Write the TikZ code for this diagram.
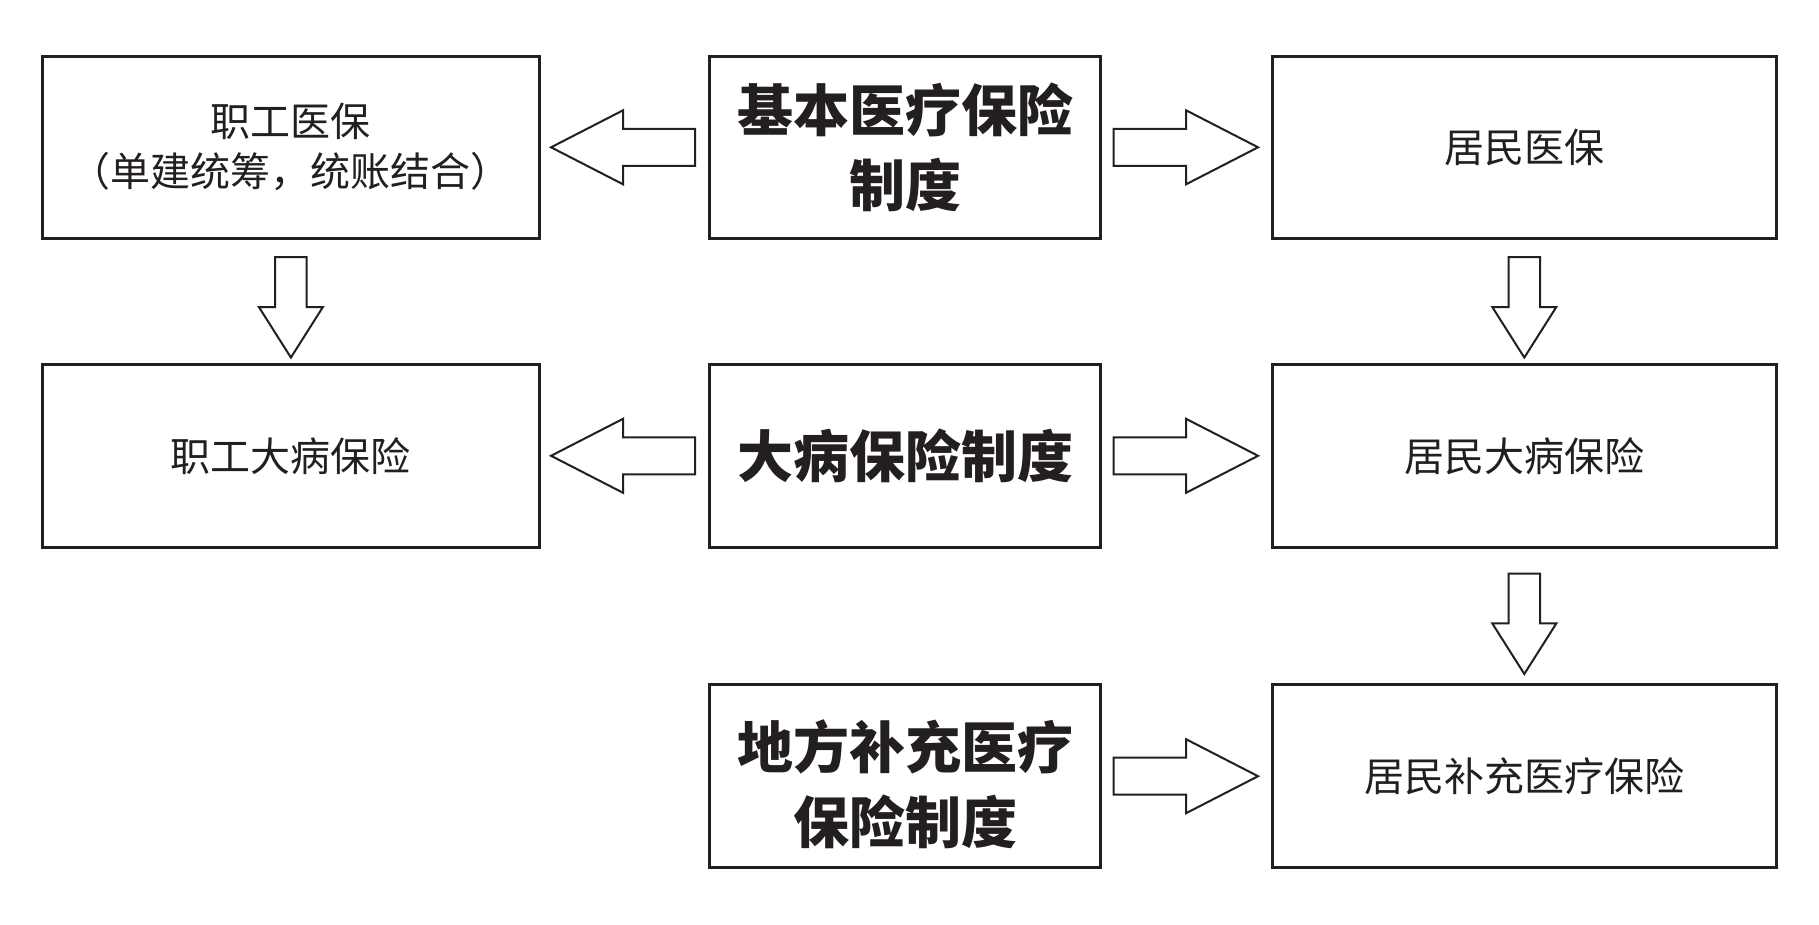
\documentclass[tikz,border=0pt]{standalone}
\usepackage{fontspec}
\newfontfamily\cjk{Noto Sans CJK SC}
\usetikzlibrary{calc}
\definecolor{ink}{HTML}{231F20}
\tikzset{
  box/.style={draw=ink, line width=3bp, minimum height=182.5bp, inner sep=0pt, outer sep=0pt,
    align=center, text=ink, font=\cjk\fontsize{40bp}{50bp}\selectfont},
  boldbox/.style={box, font=\cjk\bfseries\fontsize{56bp}{75bp}\selectfont},
  colL/.style={minimum width=496.3bp},
  colM/.style={minimum width=391bp},
  colR/.style={minimum width=503.5bp},
  barrow/.style={draw=ink, fill=white, line width=2bp, line join=miter},
}
% horizontal block arrow: #1 shaft start, #2 tip, #3 direction (1 right, -1 left)
\newcommand\harrow[3]{%
  \draw[barrow] ($(#1)+(0,-18.5)$) -- ($(#2)+(#3*-72,-18.5)$) -- ($(#2)+(#3*-72,-37)$) -- (#2)
    -- ($(#2)+(#3*-72,37)$) -- ($(#2)+(#3*-72,18.5)$) -- ($(#1)+(0,18.5)$) -- cycle;}
% vertical block arrow (downwards): #1 shaft top, #2 tip
\newcommand\varrow[2]{%
  \draw[barrow] ($(#1)+(-15.7,0)$) -- ($(#2)+(-15.7,-50.5)$) -- ($(#2)+(-32,-50.5)$) -- (#2)
    -- ($(#2)+(32,-50.5)$) -- ($(#2)+(15.7,-50.5)$) -- ($(#1)+(15.7,0)$) -- cycle;}
\begin{document}
\begin{tikzpicture}[x=1bp, y=-1bp]
\useasboundingbox (0,0) rectangle (1819,924);
% row 1
\node[box, colL] (L1) at (290.9,147.3) {职工医保\\（单建统筹，统账结合）};
\node[boldbox, colM] (M1) at (905,147.3) {基本医疗保险\\制度};
\node[box, colR] (R1) at (1524.3,147.3) {居民医保};
% row 2
\node[box, colL] (L2) at (290.9,455.8) {职工大病保险};
\node[boldbox, colM] (M2) at (905,455.8) {大病保险制度};
\node[box, colR] (R2) at (1524.3,455.8) {居民大病保险};
% row 3
\node[boldbox, colM] (M3) at (905,776.2) {};
\node[boldbox, draw=none, minimum height=0pt, minimum width=0pt, yshift=-8bp] (M3t) at (M3.center) {地方补充医疗\\保险制度};
\node[box, colR] (R3) at (1524.3,776.2) {居民补充医疗保险};
% arrow end points
\coordinate (a1s) at ($(M1.west)+(-14.5,0)$);
\coordinate (a1t) at ($(L1.east)+(12,0)$);
\coordinate (b1s) at ($(M1.east)+(13,0)$);
\coordinate (b1t) at ($(R1.west)+(-14.5,0)$);
\coordinate (a2s) at ($(M2.west)+(-14.5,0)$);
\coordinate (a2t) at ($(L2.east)+(12,0)$);
\coordinate (b2s) at ($(M2.east)+(13,0)$);
\coordinate (b2t) at ($(R2.west)+(-14.5,0)$);
\coordinate (b3s) at ($(M3.east)+(13,0)$);
\coordinate (b3t) at ($(R3.west)+(-14.5,0)$);
\coordinate (vLs) at ($(L1.south)+(0,18.5)$);
\coordinate (vLt) at ($(L2.north)+(0,-7)$);
\coordinate (vR1s) at ($(R1.south)+(0,18.5)$);
\coordinate (vR1t) at ($(R2.north)+(0,-7)$);
\coordinate (vR2s) at ($(R2.south)+(0,26.5)$);
\coordinate (vR2t) at ($(R3.north)+(0,-11)$);
% arrows
\harrow{a1s}{a1t}{-1}
\harrow{b1s}{b1t}{1}
\harrow{a2s}{a2t}{-1}
\harrow{b2s}{b2t}{1}
\harrow{b3s}{b3t}{1}
\varrow{vLs}{vLt}
\varrow{vR1s}{vR1t}
\varrow{vR2s}{vR2t}
\end{tikzpicture}
\end{document}
